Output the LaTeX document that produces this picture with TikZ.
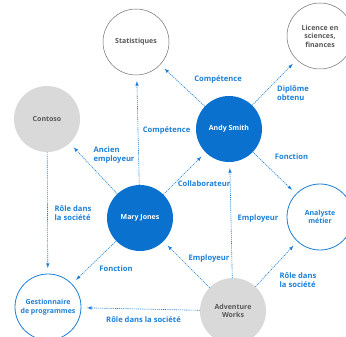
\documentclass[tikz,border=0pt]{standalone}
\usepackage{fontspec}
\setmainfont{Open Sans}
\usepackage{xcolor}
\usepackage{tikz}
\usepackage{tkz-graph}
\usetikzlibrary{arrows,shapes}

\definecolor{msblue}{HTML}{0A72CE}
\definecolor{lblue}{HTML}{1C80D8}
\definecolor{lgray}{HTML}{D9D9D9}
\definecolor{dgray}{HTML}{575757}
\definecolor{rgray}{HTML}{707070}

\tikzset{
  VertexStyle/.style={shape=circle, minimum size=66pt, inner sep=0pt, align=center,
    font=\bfseries\fontsize{7}{8.5}\selectfont},
  EdgeStyle/.style={draw, lblue, line width=0.6pt, dash pattern=on 1.2pt off 0.9pt,
    ->, >=latex, shorten >=6pt},
  LabelStyle/.style={text=lblue, align=left, inner sep=0pt,
    font=\bfseries\fontsize{7.6}{9}\selectfont},
  filled/.style={fill=msblue, text=white},
  greyed/.style={fill=lgray, text=dgray},
  ringed/.style={draw=rgray, line width=0.5pt, text=dgray},
  blueringed/.style={draw=lblue, line width=0.8pt, text=lblue}
}

\begin{document}
\begin{tikzpicture}[x=1pt,y=-1pt]
        \path[use as bounding box, fill=white] (0,0) rectangle (346,337);
        %\GraphInit[vstyle=Normal]
        \Vertex[x=136,y=42,L=Statistiques,style={ringed,minimum size=70pt}]{Stat}
        \Vertex[x=320,y=36,L={Licence en\\sciences,\\finances},style={ringed,minimum size=70pt}]{Lic}
        \Vertex[x=47,y=119,L=Contoso,style={greyed}]{Contoso}
        \Vertex[x=229,y=129,L={Andy Smith},style={filled}]{Andy}
        \Vertex[x=140,y=218,L={Mary Jones},style={filled,minimum size=68pt}]{Mary}
        \Vertex[x=320,y=217,L={Analyste\\métier},style={blueringed}]{Ana}
        \Vertex[x=48,y=307,L={Gestionnaire\\de programmes},style={blueringed,minimum size=69pt}]{Gest}
        \Vertex[x=233,y=311,L={Adventure\\Works},style={greyed,minimum size=65pt}]{Adv}
        \Edge[label=Compétence, labelstyle={xshift=35.5pt,yshift=5.5pt}](Andy)(Stat)
        \Edge[label={Diplôme\\obtenu}, labelstyle={align=center,xshift=18.5pt,yshift=-10.5pt}](Andy)(Lic)
        \Edge[label=Fonction, labelstyle={xshift=17pt,yshift=16.5pt}](Andy)(Ana)
        \Edge[label=Compétence, labelstyle={xshift=28.5pt,yshift=-1pt}](Mary)(Stat)
        \Edge[label={Ancien\\employeur}, labelstyle={xshift=20.5pt,yshift=13pt}](Mary)(Contoso)
        \Edge[label=Collaborateur, labelstyle={xshift=19.5pt,yshift=-10pt}](Mary)(Andy)
        \Edge[label=Fonction, labelstyle={xshift=22pt,yshift=-6.5pt}](Mary)(Gest)
        \Edge[label={Rôle dans\\la société}, labelstyle={xshift=25.5pt}](Contoso)(Gest)
        \Edge[label=Employeur, labelstyle={xshift=22.5pt,yshift=6pt}](Adv)(Mary)
        \Edge[label=Employeur, labelstyle={xshift=27pt,yshift=1.5pt}](Adv)(Andy)
        \Edge[label={Rôle dans\\la société}, labelstyle={xshift=21.5pt,yshift=-16.5pt}](Adv)(Ana)
        \Edge[label={Rôle dans la société}, labelstyle={xshift=3pt,yshift=-11pt}](Adv)(Gest)
\end{tikzpicture}
\end{document}
